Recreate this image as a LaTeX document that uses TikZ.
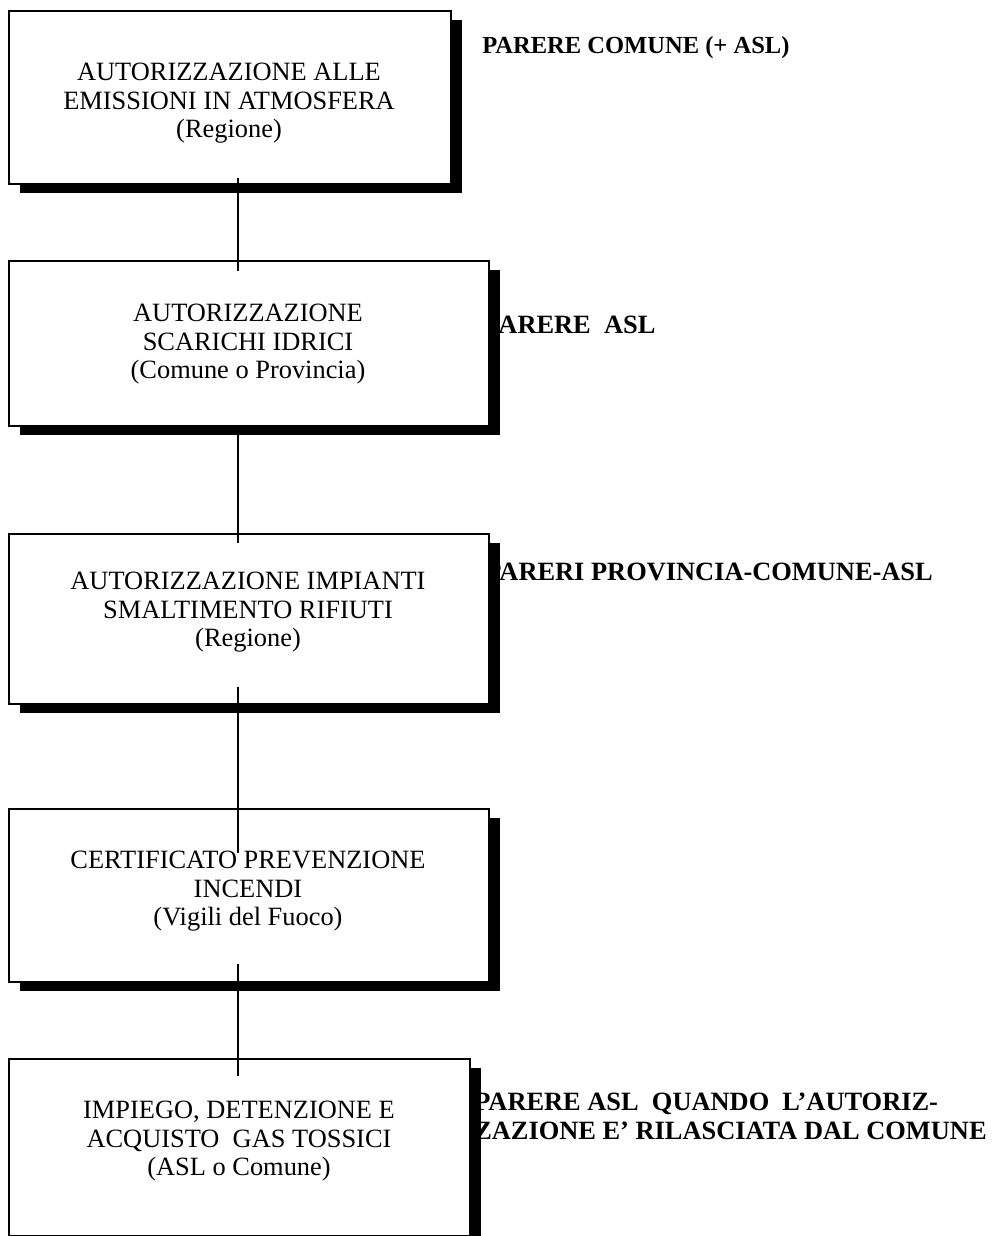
\documentclass[tikz,border=0pt]{standalone}
\usepackage{fontspec}
\setmainfont{Liberation Serif}
\usetikzlibrary{shadows,calc}
\begin{document}
\begin{tikzpicture}[x=0.75pt,y=-0.75pt,
  boxstyle/.style={draw=black, line width=1.2pt, fill=white, inner sep=0pt,
    anchor=north west,
    drop shadow={shadow xshift=8.25pt, shadow yshift=-6.75pt, fill=black, draw=none, opacity=1}},
  boxtext/.style={align=center, inner sep=0pt,
    font=\fontsize{19.8}{21.4}\selectfont},
  note/.style={anchor=base west, inner sep=0pt,
    font=\bfseries\fontsize{19.8}{22}\selectfont},
  conn/.style={draw=black, line width=1.5pt}]
\useasboundingbox (0,0) rectangle (1002,1236);
\coordinate (axis) at (238,0);

% notes on the right (drawn first: the shadows cover their first letter)
\node[note, font=\bfseries\fontsize{18.4}{22}\selectfont] (p1) at (482,53) {PARERE COMUNE (+ ASL)};
\node[note] (p2) at (484,333) {PARERE\ \ ASL};
\node[note] (p3) at (485,580) {PARERI PROVINCIA-COMUNE-ASL};
\node[note] (p4a) at (474,1110) {PARERE ASL\ \ QUANDO\ \ L’AUTORIZ-};
\node[note] (p4b) at (474,1139) {ZAZIONE E’ RILASCIATA DAL COMUNE};

% boxes
\node[boxstyle, minimum width=331.5pt, minimum height=129.75pt] (b1) at (8,10) {};
\node[boxstyle, minimum width=360pt, minimum height=123.75pt] (b2) at (8,260) {};
\node[boxstyle, minimum width=360pt, minimum height=127.5pt] (b3) at (8,533) {};
\node[boxstyle, minimum width=360pt, minimum height=129.75pt] (b4) at (8,808) {};
\node[boxstyle, minimum width=345.75pt, minimum height=132.75pt] (b5) at (8,1058) {};

% box texts
\node[boxtext] (t1) at (229,103.5) {AUTORIZZAZIONE ALLE\\EMISSIONI IN ATMOSFERA\\(Regione)};
\node[boxtext] (t2) at (248,344.5) {AUTORIZZAZIONE\\SCARICHI IDRICI\\(Comune o Provincia)};
\node[boxtext] (t3) at (248,612.5) {AUTORIZZAZIONE IMPIANTI\\SMALTIMENTO RIFIUTI\\(Regione)};
\node[boxtext] (t4) at (248,891.5) {CERTIFICATO PREVENZIONE\\INCENDI\\(Vigili del Fuoco)};
\node[boxtext] (t5) at (239,1141.5) {IMPIEGO, DETENZIONE E\\ACQUISTO\ \ GAS TOSSICI\\(ASL o Comune)};

% connectors
\draw[conn] ($(b1.south -| axis)+(0,-7)$) -- ($(b2.north -| axis)+(0,11)$);
\draw[conn] (b2.south -| axis) -- ($(b3.north -| axis)+(0,10)$);
\draw[conn] ($(b3.south -| axis)+(0,-18)$) -- ($(b4.north -| axis)+(0,45)$);
\draw[conn] ($(b4.south -| axis)+(0,-19)$) -- ($(b5.north -| axis)+(0,18)$);
\end{tikzpicture}
\end{document}
